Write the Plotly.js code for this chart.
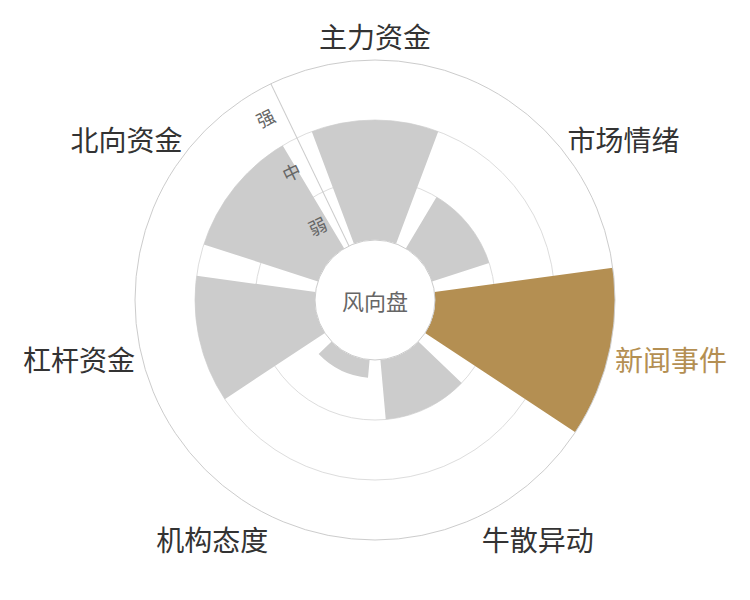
<!DOCTYPE html>
<html>
<head>
<meta charset="utf-8">
<script src="https://cdn.plot.ly/plotly-3.0.1.min.js"></script>
<style>
  html, body { margin: 0; padding: 0; background: #ffffff; }
  #chart { width: 750px; height: 600px; }
</style>
</head>
<body>
<div id="chart"></div>
<script>
// Categories (clockwise from top)
var categories = ['主力资金', '市场情绪', '新闻事件', '牛散异动', '机构态度', '杠杆资金', '北向资金'];
// Strength values on the 0–3 radial scale (弱/中/强 bands)
var values = [2, 1, 3, 1, 0.3, 2, 2];
// Highlighted category
var highlight = '新闻事件';
// Radial level labels
var levelLabels = ['弱', '中', '强'];
var levelPositions = [0.5, 1.5, 2.5];
var centerText = '风向盘';

var grey = '#cccccc';
var gold = '#b48f52';

var barColors = categories.map(function (c) { return c === highlight ? gold : grey; });
var tickText = categories.map(function (c) {
  return c === highlight ? '<span style="color:' + gold + '">' + c + '</span>' : c;
});

var sector = 360 / categories.length;
var axisAngle = 90 + sector / 2;

var fontFamily = '"Noto Sans CJK SC", "Noto Sans", sans-serif';

var traces = [
  {
    type: 'barpolar',
    r: values,
    theta: categories,
    marker: { color: barColors, line: { width: 0 } },
    hoverinfo: 'theta+r',
    subplot: 'polar'
  },
  {
    type: 'scatterpolar',
    r: [],
    theta: [],
    mode: 'markers',
    hoverinfo: 'skip',
    subplot: 'polar2',
    showlegend: false
  }
];

var layout = {
  width: 750,
  height: 600,
  margin: { l: 60, r: 60, t: 60, b: 60 },
  paper_bgcolor: '#ffffff',
  showlegend: false,
  font: { family: fontFamily, color: '#333333' },
  polar: {
    domain: { x: [0, 1], y: [0, 1] },
    hole: 0.25,
    bargap: 0.2,
    bgcolor: '#ffffff',
    angularaxis: {
      type: 'category',
      categoryorder: 'array',
      categoryarray: categories,
      direction: 'clockwise',
      rotation: 90,
      tickmode: 'array',
      tickvals: categories,
      ticktext: tickText,
      tickfont: { size: 28, color: '#333333', family: fontFamily },
      showgrid: false,
      ticks: '',
      showline: true,
      linecolor: '#cccccc',
      linewidth: 1
    },
    radialaxis: {
      range: [0, 3],
      tickmode: 'array',
      tickvals: [0, 1, 2, 3],
      showticklabels: false,
      ticks: '',
      showgrid: true,
      gridcolor: '#dddddd',
      gridwidth: 1,
      showline: true,
      linecolor: '#cccccc',
      linewidth: 1,
      angle: axisAngle
    }
  },
  polar2: {
    domain: { x: [0, 1], y: [0, 1] },
    hole: 0.25,
    bgcolor: 'rgba(0,0,0,0)',
    angularaxis: {
      visible: false,
      direction: 'clockwise',
      rotation: 90
    },
    radialaxis: {
      range: [0, 3],
      tickmode: 'array',
      tickvals: levelPositions,
      ticktext: levelLabels,
      showgrid: false,
      showline: false,
      ticks: 'outside',
      ticklen: 4,
      tickcolor: 'rgba(0,0,0,0)',
      tickangle: 90,
      angle: axisAngle,
      side: 'counterclockwise',
      tickfont: { size: 18, color: '#666666', family: fontFamily }
    }
  },
  annotations: [
    {
      text: centerText,
      xref: 'paper', yref: 'paper',
      x: 0.5, y: 0.5,
      showarrow: false,
      font: { size: 22, color: '#666666', family: fontFamily }
    }
  ]
};

Plotly.newPlot('chart', traces, layout, { displayModeBar: false, staticPlot: false });
</script>
</body>
</html>
